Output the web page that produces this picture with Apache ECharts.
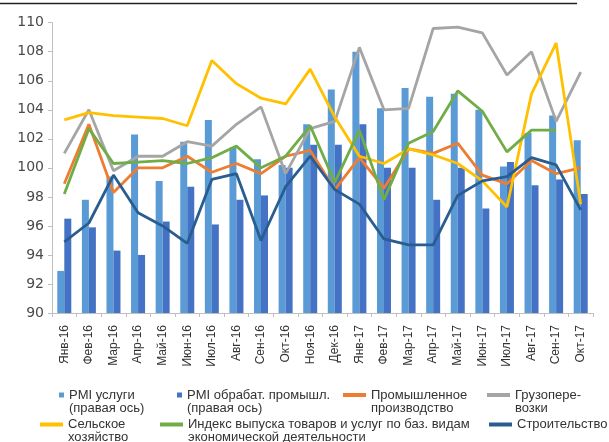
<!DOCTYPE html>
<html>
<head>
<meta charset="utf-8">
<script src="https://cdn.jsdelivr.net/npm/echarts@6/dist/echarts.min.js"></script>
<style>
  html, body { margin: 0; padding: 0; background: #fff; }
  #chart { width: 609px; height: 442px; }
</style>
</head>
<body>
<div id="chart"></div>
<script>
// months, Jan 2016 - Oct 2017
const months = ['Янв-16', 'Фев-16', 'Мар-16', 'Апр-16', 'Май-16', 'Июн-16', 'Июл-16', 'Авг-16', 'Сен-16', 'Окт-16', 'Ноя-16', 'Дек-16',
  'Янв-17', 'Фев-17', 'Мар-17', 'Апр-17', 'Май-17', 'Июн-17', 'Июл-17', 'Авг-17', 'Сен-17', 'Окт-17'];
const yTicks = [90, 110, 2]; // min, max, step

const pmiServices = [92.9, 97.8, 99.4, 102.3, 99.1, 101.8, 103.3, 101.4, 100.6, 100.2, 103.0, 105.4,
  108.0, 104.1, 105.5, 104.9, 105.1, 104.0, 100.1, 102.4, 103.6, 101.9];
const pmiManuf = [96.5, 95.9, 94.3, 94.0, 96.3, 98.7, 96.1, 97.8, 98.1, 100.0, 101.6, 101.6,
  103.0, 100.0, 100.0, 97.8, 100.0, 97.2, 100.4, 98.8, 99.2, 98.2];
const industry = [98.9, 103.0, 98.3, 100.0, 100.0, 100.8, 99.7, 100.3, 99.6, 100.8, 101.2, 98.5,
  100.7, 98.6, 101.3, 101.0, 101.7, 99.5, 98.9, 100.5, 99.6, 100.0];
const freight = [101.0, 104.0, 99.8, 100.8, 100.8, 101.8, 101.5, 103.0, 104.2, 99.6, 102.7, 103.2,
  108.3, 104.0, 104.1, 109.6, 109.7, 109.3, 106.4, 108.0, 103.2, 106.6];
const agriculture = [103.3, 103.8, 103.6, 103.5, 103.4, 102.9, 107.4, 105.8, 104.8, 104.4, 106.8, 103.5,
  100.8, 100.3, 101.3, 100.9, 100.3, 99.1, 97.3, 105.1, 108.6, 97.5];
const baseIndex = [98.2, 102.7, 100.3, 100.4, 100.5, 100.3, 100.7, 101.5, 100.0, 100.8, 102.9, 99.0,
  102.6, 97.8, 101.7, 102.5, 105.3, 103.9, 101.1, 102.6, 102.6, null];
const construction = [94.9, 96.2, 99.5, 96.9, 96.0, 94.8, 99.2, 99.6, 95.0, 98.7, 100.8, 98.5,
  97.5, 95.1, 94.7, 94.7, 98.1, 99.1, 99.4, 100.7, 100.2, 97.1];

const legendLabels = {
  'PMI услуги': 'PMI услуги\n(правая ось)',
  'PMI обрабат. промышл.': 'PMI обрабат. промышл.\n(правая ось)',
  'Промышленное производство': 'Промышленное\nпроизводство',
  'Грузоперевозки': 'Грузопере-\nвозки',
  'Сельское хозяйство': 'Сельское\nхозяйство',
  'Индекс выпуска товаров и услуг по баз. видам экономической деятельности':
    'Индекс выпуска товаров и услуг по баз. видам\nэкономической деятельности',
  'Строительство': 'Строительство'
};

const font = '"Liberation Sans", Arial, sans-serif';

function legendItem(name, left, top, isBar) {
  let label = legendLabels[name];
  // blank first line keeps the icon level with the first text line
  if (label.indexOf('\n') >= 0) label = ' \n' + label;
  return {
    data: [name],
    left: left,
    top: top,
    padding: 0,
    icon: 'rect',
    itemWidth: isBar ? 5 : 23,
    itemHeight: isBar ? 5 : 4,
    formatter: () => label,
    textStyle: {
      fontFamily: font,
      fontSize: 13,
      lineHeight: 13,
      color: '#333'
    }
  };
}

const chart = echarts.init(document.getElementById('chart'));

function lineSeries(name, data, color) {
  return {
    name: name,
    type: 'line',
    data: data,
    showSymbol: false,
    symbol: 'none',
    color: color,
    lineStyle: {width: 2.8, color: color}
  };
}

chart.setOption({
  animation: false,
  textStyle: {fontFamily: font},
  graphic: [{
    type: 'line',
    shape: {x1: 0, y1: 3.5, x2: 577, y2: 3.5},
    style: {stroke: '#222', lineWidth: 1.6}
  }],
  grid: {left: 52, right: 16, top: 22.7, bottom: 129},
  legend: [
    legendItem('PMI услуги', 59, 375.5, true),
    legendItem('PMI обрабат. промышл.', 177, 375.5, true),
    legendItem('Промышленное производство', 343, 375.5, false),
    legendItem('Грузоперевозки', 487, 375.5, false),
    legendItem('Сельское хозяйство', 40, 405, false),
    legendItem('Индекс выпуска товаров и услуг по баз. видам экономической деятельности', 160, 405, false),
    legendItem('Строительство', 489, 418, false)
  ],
  xAxis: {
    type: 'category',
    data: months,
    axisLine: {lineStyle: {color: '#bfbfbf', width: 1}},
    axisTick: {show: true, length: 4, lineStyle: {color: '#bfbfbf'}},
    axisLabel: {
      interval: 0,
      rotate: 90,
      margin: 12,
      fontSize: 12,
      fontFamily: font,
      color: '#333'
    }
  },
  yAxis: [{
    type: 'value',
    min: yTicks[0],
    max: yTicks[1],
    interval: yTicks[2],
    axisLine: {show: true, lineStyle: {color: '#bfbfbf', width: 1}},
    axisTick: {show: true, length: 4, lineStyle: {color: '#bfbfbf'}},
    splitLine: {show: false},
    axisLabel: {
      margin: 8,
      fontSize: 14,
      fontFamily: '"DejaVu Sans", sans-serif',
      color: '#4a4a4a'
    }
  }, {
    // right axis of the PMI bars, hidden in the original
    type: 'value',
    min: yTicks[0],
    max: yTicks[1],
    interval: yTicks[2],
    show: false,
    splitLine: {show: false}
  }],
  series: [
    {
      name: 'PMI услуги',
      type: 'bar',
      yAxisIndex: 1,
      data: pmiServices,
      barWidth: 7,
      barGap: '0%',
      color: '#5b9bd5'
    },
    {
      name: 'PMI обрабат. промышл.',
      type: 'bar',
      yAxisIndex: 1,
      data: pmiManuf,
      barWidth: 7,
      barGap: '0%',
      color: '#4472c4'
    },
    lineSeries('Промышленное производство', industry, '#ed7d31'),
    lineSeries('Грузоперевозки', freight, '#a5a5a5'),
    lineSeries('Сельское хозяйство', agriculture, '#ffc000'),
    lineSeries('Индекс выпуска товаров и услуг по баз. видам экономической деятельности', baseIndex, '#70ad47'),
    lineSeries('Строительство', construction, '#2a5d8f')
  ]
});
</script>
</body>
</html>
